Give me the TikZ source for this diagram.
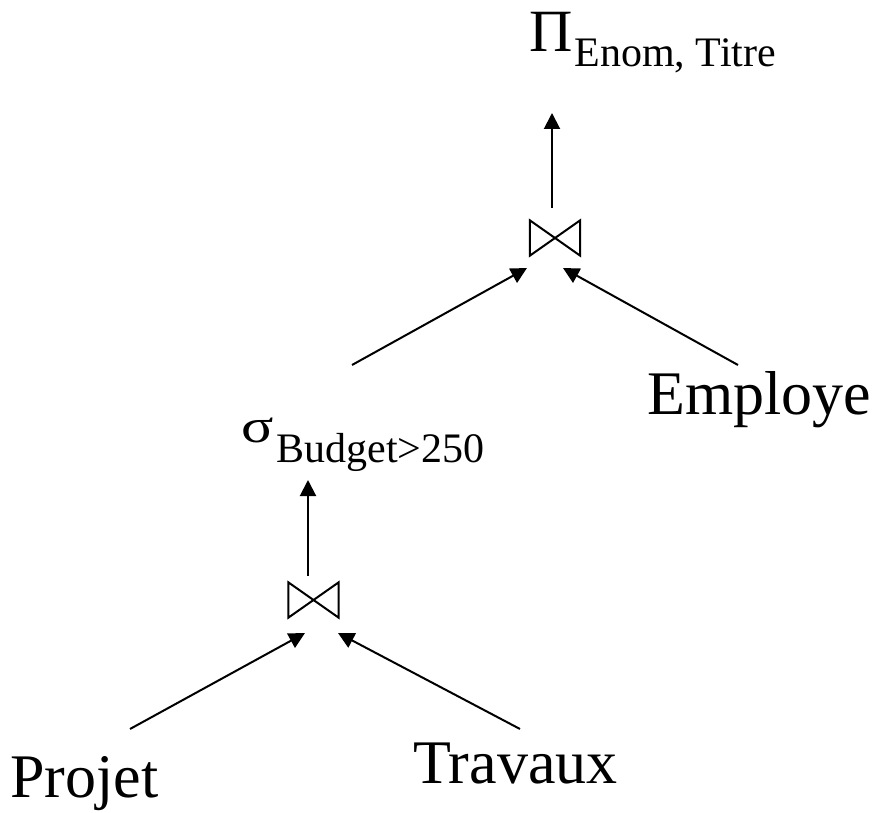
\documentclass[tikz,border=0pt]{standalone}
\usepackage{fontspec}
\setmainfont{Liberation Serif}
\usetikzlibrary{arrows.meta}
\tikzset{
  big/.style={inner sep=0pt, anchor=base west, font=\fontsize{62}{62}\selectfont},
  oper/.style={inner sep=0pt, anchor=base west, font=\fontsize{60}{60}\selectfont},
  bowtie/.style={minimum width=50pt, minimum height=35pt, inner sep=0pt},
  bowline/.style={line width=2pt, line join=miter},
  arr/.style={line width=2pt, -{Triangle[length=16pt,width=16pt]}},
}
\newcommand{\subtext}[2]{\raisebox{-#1}{\fontsize{42}{42}\selectfont #2}}
\begin{document}
\begin{tikzpicture}[x=1pt,y=-1pt]
\useasboundingbox (0,0) rectangle (883,813);
% operator nodes
\node[oper] (proj) at (529,52) {Π\hspace{2pt}\subtext{15pt}{Enom, Titre}};
\node[bowtie] (j2) at (555,238) {};
\node[oper] (sel) at (241,442) {\scalebox{1.0}[0.8]{σ}\hspace{3pt}\subtext{20pt}{Budget>250}};
\node[bowtie] (j1) at (313.5,600) {};
% relation nodes
\node[big] (emp) at (647,414) {Employe};
\node[big] (prj) at (10,797) {Projet};
\node[big] (trv) at (413,783) {Travaux};
% join symbols
\foreach \j in {j1,j2}
  \draw[bowline] (\j.north west) -- (\j.south east) -- (\j.north east) -- (\j.south west) -- cycle;
% connector end points
\coordinate (j2top) at (552,208);
\coordinate (projin) at (552,113);
\coordinate (j2inl) at (527,268);
\coordinate (j2inr) at (563,268);
\coordinate (selout) at (352,365);
\coordinate (empout) at (738,365);
\coordinate (j1top) at (308,576);
\coordinate (selin) at (308,480);
\coordinate (j1inl) at (305,633);
\coordinate (j1inr) at (338,633);
\coordinate (prjout) at (130,729);
\coordinate (trvout) at (520,729);
% connectors
\draw[arr] (j2top) -- (projin);
\draw[arr] (selout) -- (j2inl);
\draw[arr] (empout) -- (j2inr);
\draw[arr] (j1top) -- (selin);
\draw[arr] (prjout) -- (j1inl);
\draw[arr] (trvout) -- (j1inr);
\end{tikzpicture}
\end{document}
